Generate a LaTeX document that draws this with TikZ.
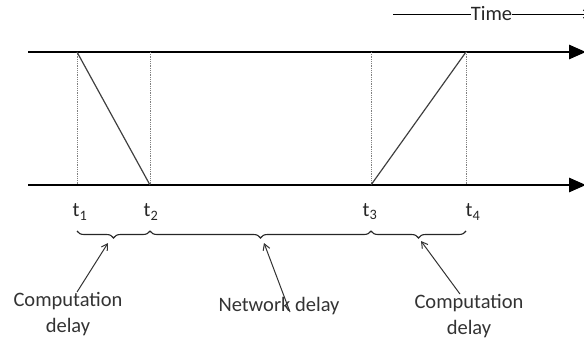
\documentclass[tikz,border=0pt]{standalone}
\usepackage{fontspec}
\setmainfont{Carlito}
\usetikzlibrary{arrows.meta,decorations.pathreplacing}
\begin{document}
\begin{tikzpicture}[x=1pt,y=-1pt,
  axis/.style={line width=2.8pt,-{Triangle[length=17pt,width=14pt]}},
  guide/.style={densely dotted,gray,line width=0.8pt},
  msg/.style={line width=1.2pt,black!75},
  brc/.style={decorate,decoration={brace,mirror,amplitude=7pt},line width=1.1pt,black!85},
  pointer/.style={line width=1pt,black!80,-{Straight Barb[length=6pt,width=7pt]}},
  lbl/.style={font=\fontsize{20.5}{25}\selectfont,text=black!80,align=center,inner sep=0pt},
  tl/.style={font=\fontsize{20.5}{24}\selectfont,text=black!85,inner sep=0pt}]
\useasboundingbox (0,0) rectangle (584,342);
% axes
\coordinate (topL) at (28,52); \coordinate (topR) at (586,52);
\coordinate (botL) at (28,185); \coordinate (botR) at (586,185);
\draw[axis] (topL) -- (topR);
\draw[axis] (botL) -- (botR);
% time arrow
\coordinate (timeL) at (393,14); \coordinate (timeR) at (590,14);
\draw[line width=0.9pt,-{Straight Barb[length=6pt,width=8pt]}] (timeL) -- node[pos=0.5,fill=white,inner sep=1pt,tl] (time) {Time} (timeR);
% event points
\coordinate (a1) at (77,52);  \coordinate (b1) at (77,185);
\coordinate (a2) at (150,52); \coordinate (b2) at (150,185);
\coordinate (a3) at (371,52); \coordinate (b3) at (371,185);
\coordinate (a4) at (466,52); \coordinate (b4) at (466,185);
\foreach \i in {1,2,3,4} \draw[guide] (a\i) -- (b\i);
\draw[msg] (a1) -- (b2);
\draw[msg] (b3) -- (a4);
% labels
\node[tl] (t1) at (80,212) {t\textsubscript{1}};
\node[tl] (t2) at (151,212) {t\textsubscript{2}};
\node[tl] (t3) at (370,212) {t\textsubscript{3}};
\node[tl] (t4) at (473,212) {t\textsubscript{4}};
% braces
\coordinate (c1) at (77,231); \coordinate (c2) at (150,231);
\coordinate (c3) at (371,231); \coordinate (c4) at (466,231);
\draw[brc] (c1) -- (c2);
\draw[brc] (c2) -- (c3);
\draw[brc] (c3) -- (c4);
% texts
\node[lbl] (comp1) at (68,314) {Computation\\[1pt]delay};
\node[lbl] (net) at (279,306) {Network delay};
\node[lbl] (comp2) at (469,316) {Computation\\[1pt]delay};
% pointers
\coordinate (p1) at (108,243);
\coordinate (p2) at (264,243);
\coordinate (p3) at (421,241);
\draw[pointer] (comp1.north) ++(9,0) -- (p1);
\draw[pointer] (290,312) -- (p2);
\draw[pointer] (comp2.north) ++(-9,0) -- (p3);
\end{tikzpicture}
\end{document}
